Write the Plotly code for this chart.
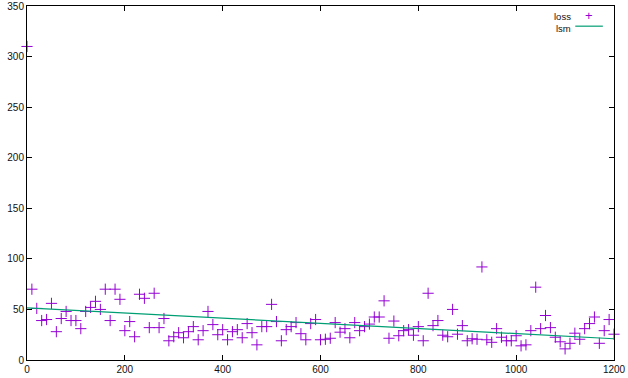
import plotly.graph_objects as go

# ---- data ----
x_loss = list(range(0, 1201, 10))
y_loss = [
    310, 70, 51, 39, 40, 56, 28, 41, 48, 39,
    39, 31, 48, 52, 58, 50, 70, 39, 70, 60,
    29, 38, 23, 65, 61, 32, 66, 32, 41, 19,
    23, 27, 22, 28, 33, 20, 29, 48, 35, 25,
    30, 20, 28, 30, 22, 36, 27, 15, 33, 33,
    55, 38, 19, 30, 33, 37, 26, 20, 36, 40,
    20, 20.5, 21.5, 37, 27.5, 31, 22, 37, 29, 33,
    35.5, 42.5, 42.5, 58.5, 21.5, 38.5, 24, 29, 30, 24.5,
    33, 19, 66, 34, 39, 24.5, 23, 50, 25.5, 34,
    19, 21, 20.5, 92, 20, 17.5, 31, 22.5, 19, 19,
    24, 14, 15, 29, 72, 31, 44, 32, 22.5, 18,
    11, 16.5, 26.5, 20.5, 31, 36, 42.5, 16.5, 29, 40,
    25.5,
]
x_lsm = [0, 1200]
y_lsm = [51.5, 21]

x_ticks = [0, 200, 400, 600, 800, 1000, 1200]
y_ticks = [0, 50, 100, 150, 200, 250, 300, 350]

PURPLE = "#9400d3"
TEAL = "#009e73"
FONT = "Liberation Sans, Arial, sans-serif"

fig = go.Figure()
fig.add_trace(go.Scatter(
    x=x_loss, y=y_loss, mode="markers", name="loss",
    marker=dict(symbol="cross-thin-open", size=8, color=PURPLE,
                line=dict(color=PURPLE, width=1)),
    cliponaxis=False,
))
fig.add_trace(go.Scatter(
    x=x_lsm, y=y_lsm, mode="lines", name="lsm",
    line=dict(color=TEAL, width=1.2),
))

axis_common = dict(
    showgrid=False, zeroline=False, showline=True, linecolor="black",
    linewidth=1, mirror="ticks", ticks="inside", ticklen=5,
    tickcolor="black", tickfont=dict(family=FONT, size=10, color="#111"),
    automargin=False, ticklabeloverflow="allow",
)
fig.update_xaxes(range=[0, 1200], tickvals=x_ticks, **axis_common)
fig.update_yaxes(range=[0, 350], tickvals=y_ticks, **axis_common)

# gnuplot-style key: text right-aligned, sample to the right
key_font = dict(family=FONT, size=9.5, color="#111")
fig.add_annotation(xref="paper", yref="paper", x=0.928, y=0.969,
                   text="loss", showarrow=False, xanchor="right", yanchor="middle",
                   borderpad=0, font=key_font)
fig.add_annotation(xref="paper", yref="paper", x=0.928, y=0.937,
                   text="lsm", showarrow=False, xanchor="right", yanchor="middle",
                   borderpad=0, font=key_font)
fig.add_annotation(xref="paper", yref="paper", x=0.957, y=0.972,
                   text="+", showarrow=False, xanchor="center", yanchor="middle",
                   borderpad=0, font=dict(family=FONT, size=13, color=PURPLE))
fig.add_shape(type="line", xref="paper", yref="paper",
              x0=0.934, x1=0.981, y0=0.943, y1=0.943,
              line=dict(color=TEAL, width=1.2))

fig.update_layout(
    width=628, height=378,
    margin=dict(l=27, r=14, t=6, b=18),
    paper_bgcolor="white", plot_bgcolor="white",
    showlegend=False,
    font=dict(family=FONT, size=10, color="#111"),
)

fig.write_html("out.html", config={"displayModeBar": False},
               post_script="document.body.style.margin='0';document.body.style.overflow='hidden';")
